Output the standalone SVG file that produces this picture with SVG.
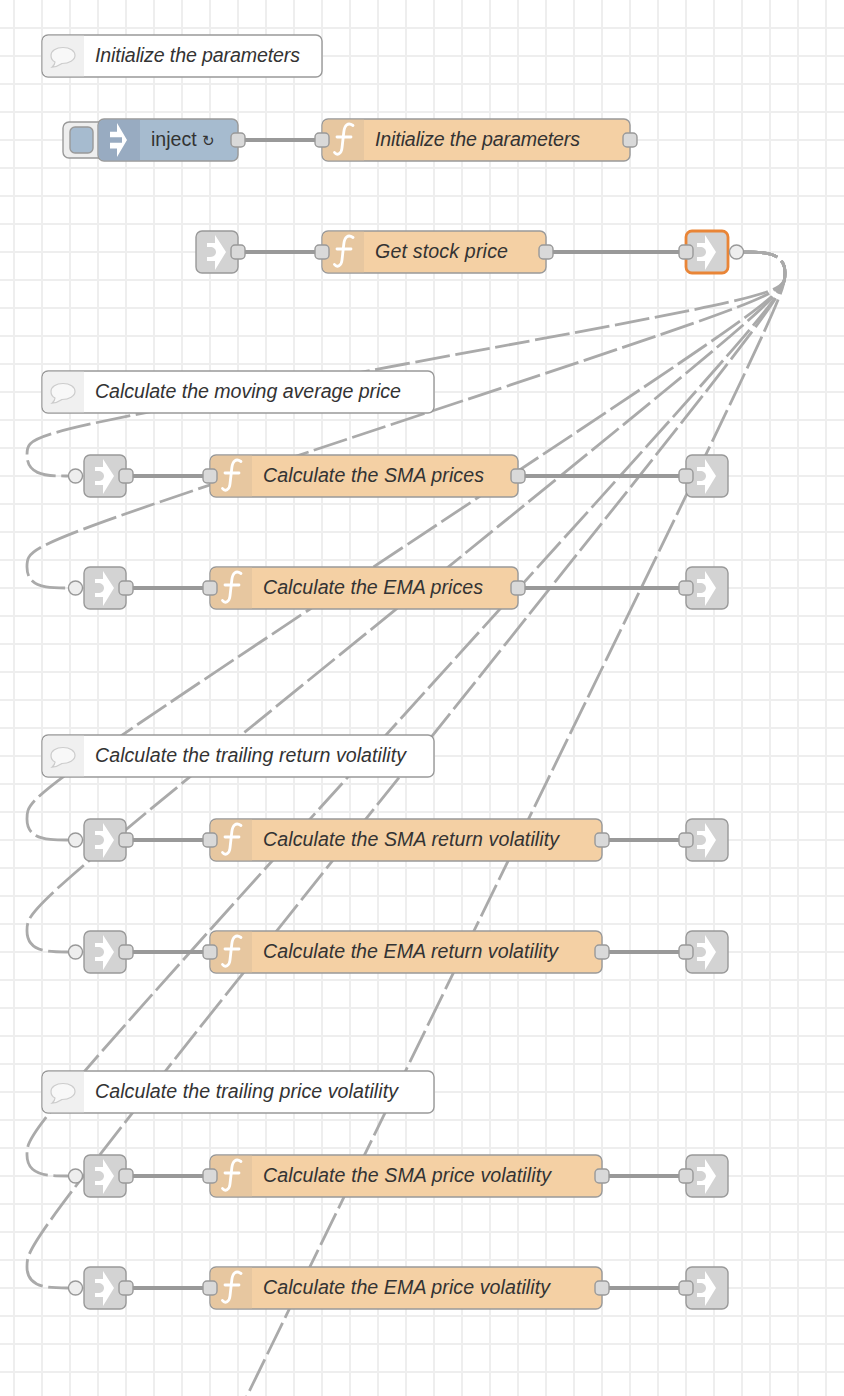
<svg xmlns="http://www.w3.org/2000/svg" width="844" height="1396" viewBox="0 0 844 1396">
<style>
text{font-family:"Liberation Sans",Arial,sans-serif;font-size:19.6px;fill:#333}
.it{font-style:italic}
.grid{stroke:#eee;stroke-width:2;fill:none}
.wire{stroke:#999;stroke-width:4.2;fill:none}
.dash{stroke:#aaa;stroke-width:2.8;fill:none;stroke-dasharray:35 5.6}
.box{stroke:#999;stroke-width:1.4}
.fn{fill:#f4d0a4}
.fi{fill:#e7c7a0}
.cm{fill:#fff}
.ln{fill:#d3d3d3}
.port{fill:#d9d9d9;stroke:#999;stroke-width:1.4}
.rp{fill:#eee;stroke:#999;stroke-width:1.4}
.ic{fill:#fff}
.fs{stroke:#fff;stroke-width:2.8;fill:none;stroke-linecap:round}
</style>
<defs>
<path id="grid" class="grid" d="M14 0V1396M42 0V1396M70 0V1396M98 0V1396M126 0V1396M154 0V1396M182 0V1396M210 0V1396M238 0V1396M266 0V1396M294 0V1396M322 0V1396M350 0V1396M378 0V1396M406 0V1396M434 0V1396M462 0V1396M490 0V1396M518 0V1396M546 0V1396M574 0V1396M602 0V1396M630 0V1396M658 0V1396M686 0V1396M714 0V1396M742 0V1396M770 0V1396M798 0V1396M826 0V1396"/>
<g id="fx"><path class="fs" d="M31 6.500C26 3 22.500 6 21.800 13L20 29C19.500 35 15 37 12.500 33.500"/><path class="fs" d="M15 18H29"/></g>
<path id="lk" class="ic" fill-rule="evenodd" d="M-2 -17L9 0L-2 18V9H-10V5H-7C-3.500 5 -1 3 -1 0C-1 -3 -3.500 -5 -7 -5H-10V-9H-2Z"/>
<g id="bub"><path d="M21 12.500C28 12.500 33 16 33 20.500C33 25 27 28.500 20 28.500C17 30.500 14 32 10 32.200C12 30.500 13 29 13 27C10 25.500 9 23 9 20.500C9 16 14 12.500 21 12.500Z" fill="#f8f8f8" stroke="#ccc" stroke-width="1.2"/></g>
</defs>
<rect width="844" height="1396" fill="#fff"/>
<use href="#grid"/>
<path class="grid" d="M0 28H844M0 56H844M0 84H844M0 112H844M0 140H844M0 168H844M0 196H844M0 224H844M0 252H844M0 280H844M0 308H844M0 336H844M0 364H844M0 392H844M0 420H844M0 448H844M0 476H844M0 504H844M0 532H844M0 560H844M0 588H844M0 616H844M0 644H844M0 672H844M0 700H844M0 728H844M0 756H844M0 784H844M0 812H844M0 840H844M0 868H844M0 896H844M0 924H844M0 952H844M0 980H844M0 1008H844M0 1036H844M0 1064H844M0 1092H844M0 1120H844M0 1148H844M0 1176H844M0 1204H844M0 1232H844M0 1260H844M0 1288H844M0 1316H844M0 1344H844M0 1372H844"/>
<g id="connectors">
<path class="dash" d="M743 252C764 252 785 252 785 273S785 294 405 364S27 434 27 455S48 476 68 476"/>
<path class="dash" d="M743 252C764 252 785 252 785 273S785 294 405 420S27 546 27 567S48 588 68 588"/>
<path class="dash" d="M743 252C764 252 785 252 785 273S785 294 405 546S27 798 27 819S48 840 68 840"/>
<path class="dash" d="M743 252C764 252 785 252 785 273S785 294 405 602S27 910 27 931S48 952 68 952"/>
<path class="dash" d="M743 252C764 252 785 252 785 273S785 294 405 714S27 1134 27 1155S48 1176 68 1176"/>
<path class="dash" d="M743 252C764 252 785 252 785 273S785 294 405 770S27 1246 27 1267S48 1288 68 1288"/>
<path class="dash" d="M743 252C764 252 785 252 785 273S785 294 405 1072S27 1850 27 1871S48 1892 68 1892"/>
<path class="wire" d="M238 140H322M238 252H322M546 252H686M126 476H210M518 476H686M126 588H210M518 588H686M126 840H210M602 840H686M126 952H210M602 952H686M126 1176H210M602 1176H686M126 1288H210M602 1288H686"/>
</g>
<g id="comment-init"><rect class="box cm" x="42" y="35" width="280" height="42" rx="6"/><path d="M48 35.700H84V76.300H48A5.300 5.300 0 0 1 42.700 71V41A5.300 5.300 0 0 1 48 35.700Z" fill="#f0f0f0"/><use href="#bub" x="42" y="35"/><text class="it" x="95" y="62" textLength="205">Initialize the parameters</text></g>
<g id="inject">
<rect x="63" y="122" width="50" height="36" rx="6" fill="#eee" stroke="#999" stroke-width="1.4"/><rect x="70" y="127" width="23" height="26" rx="5" fill="#a6bbcf" stroke="#999" stroke-width="1.4"/>
<rect class="box" x="98" y="119" width="140" height="42" rx="6" fill="#a6bbcf"/><path d="M104 119.700H140V160.300H104A5.300 5.300 0 0 1 98.700 155V125A5.300 5.300 0 0 1 104 119.700Z" fill="#98abc1"/><path class="ic" d="M117 123L127 140L117 157V148.500H110V142.700H122V137.300H110V131.700H117Z"/>
<text x="151" y="146">inject <tspan font-size="15">↻</tspan></text><rect class="port" x="231" y="133" width="14" height="14" rx="4"/></g>
<g id="fn-init"><rect class="box fn" x="322" y="119" width="308" height="42" rx="6"/><path d="M328 119.700H364V160.300H328A5.300 5.300 0 0 1 322.700 155V125A5.300 5.300 0 0 1 328 119.700Z" class="fi"/><use href="#fx" x="322" y="119"/><text class="it" x="375" y="146" textLength="205">Initialize the parameters</text><rect class="port" x="315" y="133" width="14" height="14" rx="4"/><rect class="port" x="623" y="133" width="14" height="14" rx="4"/></g>
<g id="link-in-main"><rect class="box ln" x="196" y="231" width="42" height="42" rx="6"/><use href="#lk" x="217" y="252"/><rect class="port" x="231" y="245" width="14" height="14" rx="4"/></g>
<g id="fn-stock"><rect class="box fn" x="322" y="231" width="224" height="42" rx="6"/><path d="M328 231.700H364V272.300H328A5.300 5.300 0 0 1 322.700 267V237A5.300 5.300 0 0 1 328 231.700Z" class="fi"/><use href="#fx" x="322" y="231"/><text class="it" x="375" y="258" textLength="133">Get stock price</text><rect class="port" x="315" y="245" width="14" height="14" rx="4"/><rect class="port" x="539" y="245" width="14" height="14" rx="4"/></g>
<g id="link-out-main"><rect x="686" y="231" width="42" height="42" rx="6" class="ln" stroke="#e98537" stroke-width="2.8"/><use href="#lk" x="707" y="252"/><rect class="port" x="679" y="245" width="14" height="14" rx="4"/><circle class="rp" cx="736.500" cy="252" r="7"/></g>
<g id="comment-ma"><rect class="box cm" x="42" y="371" width="392" height="42" rx="6"/><path d="M48 371.700H84V412.300H48A5.300 5.300 0 0 1 42.700 407V377A5.300 5.300 0 0 1 48 371.700Z" fill="#f0f0f0"/><use href="#bub" x="42" y="371"/><text class="it" x="95" y="398" textLength="306">Calculate the moving average price</text></g>
<g id="link-in-sma"><circle class="rp" cx="75.500" cy="476" r="7"/><rect class="box ln" x="84" y="455" width="42" height="42" rx="6"/><use href="#lk" x="105" y="476"/><rect class="port" x="119" y="469" width="14" height="14" rx="4"/></g>
<g id="fn-sma"><rect class="box fn" x="210" y="455" width="308" height="42" rx="6"/><path d="M216 455.700H252V496.300H216A5.300 5.300 0 0 1 210.700 491V461A5.300 5.300 0 0 1 216 455.700Z" class="fi"/><use href="#fx" x="210" y="455"/><text class="it" x="263" y="482" textLength="221">Calculate the SMA prices</text><rect class="port" x="203" y="469" width="14" height="14" rx="4"/><rect class="port" x="511" y="469" width="14" height="14" rx="4"/></g>
<g id="link-out-sma"><rect class="box ln" x="686" y="455" width="42" height="42" rx="6"/><use href="#lk" x="707" y="476"/><rect class="port" x="679" y="469" width="14" height="14" rx="4"/></g>
<g id="link-in-ema"><circle class="rp" cx="75.500" cy="588" r="7"/><rect class="box ln" x="84" y="567" width="42" height="42" rx="6"/><use href="#lk" x="105" y="588"/><rect class="port" x="119" y="581" width="14" height="14" rx="4"/></g>
<g id="fn-ema"><rect class="box fn" x="210" y="567" width="308" height="42" rx="6"/><path d="M216 567.700H252V608.300H216A5.300 5.300 0 0 1 210.700 603V573A5.300 5.300 0 0 1 216 567.700Z" class="fi"/><use href="#fx" x="210" y="567"/><text class="it" x="263" y="594" textLength="220">Calculate the EMA prices</text><rect class="port" x="203" y="581" width="14" height="14" rx="4"/><rect class="port" x="511" y="581" width="14" height="14" rx="4"/></g>
<g id="link-out-ema"><rect class="box ln" x="686" y="567" width="42" height="42" rx="6"/><use href="#lk" x="707" y="588"/><rect class="port" x="679" y="581" width="14" height="14" rx="4"/></g>
<g id="comment-ret"><rect class="box cm" x="42" y="735" width="392" height="42" rx="6"/><path d="M48 735.700H84V776.300H48A5.300 5.300 0 0 1 42.700 771V741A5.300 5.300 0 0 1 48 735.700Z" fill="#f0f0f0"/><use href="#bub" x="42" y="735"/><text class="it" x="95" y="762" textLength="311">Calculate the trailing return volatility</text></g>
<g id="link-in-sma-ret"><circle class="rp" cx="75.500" cy="840" r="7"/><rect class="box ln" x="84" y="819" width="42" height="42" rx="6"/><use href="#lk" x="105" y="840"/><rect class="port" x="119" y="833" width="14" height="14" rx="4"/></g>
<g id="fn-sma-ret"><rect class="box fn" x="210" y="819" width="392" height="42" rx="6"/><path d="M216 819.700H252V860.300H216A5.300 5.300 0 0 1 210.700 855V825A5.300 5.300 0 0 1 216 819.700Z" class="fi"/><use href="#fx" x="210" y="819"/><text class="it" x="263" y="846" textLength="296">Calculate the SMA return volatility</text><rect class="port" x="203" y="833" width="14" height="14" rx="4"/><rect class="port" x="595" y="833" width="14" height="14" rx="4"/></g>
<g id="link-out-sma-ret"><rect class="box ln" x="686" y="819" width="42" height="42" rx="6"/><use href="#lk" x="707" y="840"/><rect class="port" x="679" y="833" width="14" height="14" rx="4"/></g>
<g id="link-in-ema-ret"><circle class="rp" cx="75.500" cy="952" r="7"/><rect class="box ln" x="84" y="931" width="42" height="42" rx="6"/><use href="#lk" x="105" y="952"/><rect class="port" x="119" y="945" width="14" height="14" rx="4"/></g>
<g id="fn-ema-ret"><rect class="box fn" x="210" y="931" width="392" height="42" rx="6"/><path d="M216 931.700H252V972.300H216A5.300 5.300 0 0 1 210.700 967V937A5.300 5.300 0 0 1 216 931.700Z" class="fi"/><use href="#fx" x="210" y="931"/><text class="it" x="263" y="958" textLength="295">Calculate the EMA return volatility</text><rect class="port" x="203" y="945" width="14" height="14" rx="4"/><rect class="port" x="595" y="945" width="14" height="14" rx="4"/></g>
<g id="link-out-ema-ret"><rect class="box ln" x="686" y="931" width="42" height="42" rx="6"/><use href="#lk" x="707" y="952"/><rect class="port" x="679" y="945" width="14" height="14" rx="4"/></g>
<g id="comment-price"><rect class="box cm" x="42" y="1071" width="392" height="42" rx="6"/><path d="M48 1071.700H84V1112.300H48A5.300 5.300 0 0 1 42.700 1107V1077A5.300 5.300 0 0 1 48 1071.700Z" fill="#f0f0f0"/><use href="#bub" x="42" y="1071"/><text class="it" x="95" y="1098" textLength="303">Calculate the trailing price volatility</text></g>
<g id="link-in-sma-price"><circle class="rp" cx="75.500" cy="1176" r="7"/><rect class="box ln" x="84" y="1155" width="42" height="42" rx="6"/><use href="#lk" x="105" y="1176"/><rect class="port" x="119" y="1169" width="14" height="14" rx="4"/></g>
<g id="fn-sma-price"><rect class="box fn" x="210" y="1155" width="392" height="42" rx="6"/><path d="M216 1155.700H252V1196.300H216A5.300 5.300 0 0 1 210.700 1191V1161A5.300 5.300 0 0 1 216 1155.700Z" class="fi"/><use href="#fx" x="210" y="1155"/><text class="it" x="263" y="1182" textLength="288">Calculate the SMA price volatility</text><rect class="port" x="203" y="1169" width="14" height="14" rx="4"/><rect class="port" x="595" y="1169" width="14" height="14" rx="4"/></g>
<g id="link-out-sma-price"><rect class="box ln" x="686" y="1155" width="42" height="42" rx="6"/><use href="#lk" x="707" y="1176"/><rect class="port" x="679" y="1169" width="14" height="14" rx="4"/></g>
<g id="link-in-ema-price"><circle class="rp" cx="75.500" cy="1288" r="7"/><rect class="box ln" x="84" y="1267" width="42" height="42" rx="6"/><use href="#lk" x="105" y="1288"/><rect class="port" x="119" y="1281" width="14" height="14" rx="4"/></g>
<g id="fn-ema-price"><rect class="box fn" x="210" y="1267" width="392" height="42" rx="6"/><path d="M216 1267.700H252V1308.300H216A5.300 5.300 0 0 1 210.700 1303V1273A5.300 5.300 0 0 1 216 1267.700Z" class="fi"/><use href="#fx" x="210" y="1267"/><text class="it" x="263" y="1294" textLength="287">Calculate the EMA price volatility</text><rect class="port" x="203" y="1281" width="14" height="14" rx="4"/><rect class="port" x="595" y="1281" width="14" height="14" rx="4"/></g>
<g id="link-out-ema-price"><rect class="box ln" x="686" y="1267" width="42" height="42" rx="6"/><use href="#lk" x="707" y="1288"/><rect class="port" x="679" y="1281" width="14" height="14" rx="4"/></g>
</svg>
